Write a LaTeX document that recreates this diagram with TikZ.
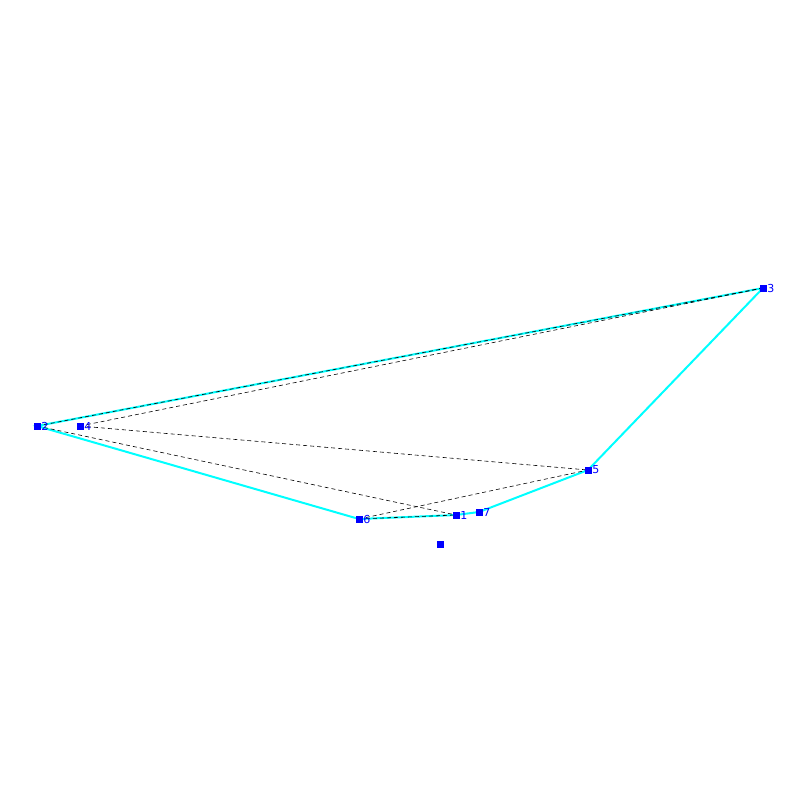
\documentclass[tikz,border=0pt]{standalone}
\usepackage{fontspec}
\setmainfont{DejaVu Sans}
\definecolor{aqua}{RGB}{0,255,255}
\definecolor{ptblue}{RGB}{0,0,255}
\begin{document}
\begin{tikzpicture}[x=1pt,y=-1pt,font=\fontsize{11}{11}\selectfont,
  pt/.style={fill=ptblue,inner sep=0pt,minimum size=7pt},
  lab/.style={text=ptblue,anchor=west,inner sep=0.5pt},
  hull/.style={aqua,line width=2pt},
  diag/.style={black,dashed,line width=0.6pt,dash pattern=on 4pt off 3pt}]
  \useasboundingbox (0,0) rectangle (800,800);

  \node[pt] (p1) at (456,515) {};
  \node[pt] (p2) at (37,426) {};
  \node[pt] (p3) at (763,288) {};
  \node[pt] (p4) at (80,426) {};
  \node[pt] (p5) at (588,470) {};
  \node[pt] (p6) at (359,519) {};
  \node[pt] (p7) at (479,512) {};
  \node[pt] (q) at (440,544) {};

  % 凸包
  \draw[hull] (p2.center) -- (p3.center) -- (p5.center) -- (p7.center)
    -- (p1.center) -- (p6.center) -- cycle;

  % 虚线连线
  \draw[diag] (p2.center) -- (p3.center);
  \draw[diag] (p4.center) -- (p3.center);
  \draw[diag] (p4.center) -- (p5.center);
  \draw[diag] (p2.center) -- (p1.center);
  \draw[diag] (p6.center) -- (p5.center);
  \draw[diag] (p6.center) -- (p1.center);

  % 点重绘与编号
  \foreach \i in {1,...,7} {
    \node[pt] at (p\i) {};
    \node[lab] at (p\i.east) {\i};
  }
  \node[pt] at (q) {};
\end{tikzpicture}
\end{document}
